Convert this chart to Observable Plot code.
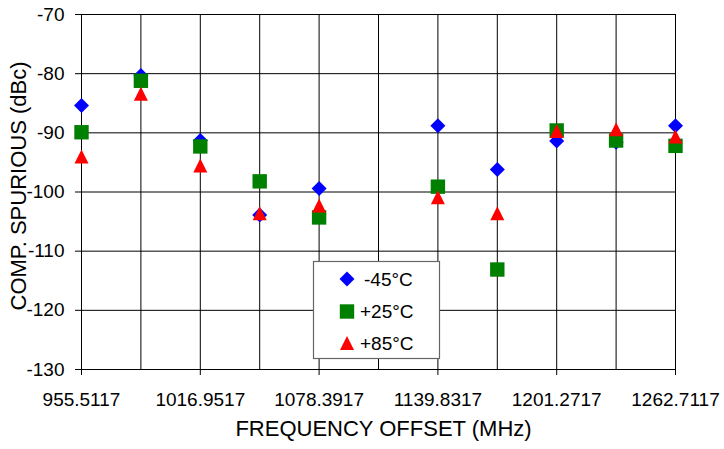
<!DOCTYPE html>
<html>
<head>
<meta charset="utf-8">
<script src="https://cdn.jsdelivr.net/npm/d3@7"></script>
<script src="https://cdn.jsdelivr.net/npm/@observablehq/plot@0.6"></script>
<style>
  html, body { margin: 0; padding: 0; background: white; }
  #chart { position: relative; width: 724px; height: 449px; }
</style>
</head>
<body>
<div id="chart"></div>
<script>
// ---- data ----
const frequencies = [955.5117, 986.2317, 1016.9517, 1047.6717, 1078.3917, 1139.8317, 1170.5517, 1201.2717, 1231.9917, 1262.7117];
const minus45 = [-85.4, -80.3, -91.3, -103.9, -99.4, -88.8, -96.2, -91.4, -91.6, -88.8];
const plus25  = [-89.9, -81.2, -92.3, -98.2, -104.3, -99.1, -113.1, -89.6, -91.3, -92.2];
const plus85  = [-94.0, -83.4, -95.5, -103.6, -102.3, -100.9, -103.6, -89.7, -89.4, -90.6];
const seriesNames = ["-45°C", "+25°C", "+85°C"];
const seriesColors = ["#0000FF", "#008000", "#FF0000"];
const gridX = [955.5117, 986.2317, 1016.9517, 1047.6717, 1078.3917, 1109.1117, 1139.8317, 1170.5517, 1201.2717, 1231.9917, 1262.7117];
const xTickLabels = [955.5117, 1016.9517, 1078.3917, 1139.8317, 1201.2717, 1262.7117];
const yTicks = [-70, -80, -90, -100, -110, -120, -130];
const xTitle = "FREQUENCY OFFSET (MHz)";
const yTitle = "COMP. SPURIOUS (dBc)";

// ---- symbols ----
const diamondSym = { draw(ctx) { const r = 7.5; ctx.moveTo(0, -r); ctx.lineTo(r, 0); ctx.lineTo(0, r); ctx.lineTo(-r, 0); ctx.closePath(); } };
const squareSym = { draw(ctx) { const h = 7.2; ctx.moveTo(-h, -h); ctx.lineTo(h, -h); ctx.lineTo(h, h); ctx.lineTo(-h, h); ctx.closePath(); } };
const triangleSym = { draw(ctx) { const h = 7; ctx.moveTo(0, -h); ctx.lineTo(h, h); ctx.lineTo(-h, h); ctx.closePath(); } };
const symbols = [diamondSym, squareSym, triangleSym];

const rows = (vals) => frequencies.map((f, i) => ({ f, v: vals[i] }));
const allSeries = [minus45, plus25, plus85];

const font = "'Liberation Sans', Arial, Helvetica, sans-serif";

const plot = Plot.plot({
  width: 724,
  height: 449,
  marginLeft: 81,
  marginRight: 49,
  marginTop: 14,
  marginBottom: 80,
  style: { fontFamily: font, background: "white", color: "black" },
  x: { domain: [955.5117, 1262.7117], label: null },
  y: { domain: [-130, -70], label: null },
  marks: [
    Plot.ruleX(gridX, { stroke: "black", strokeWidth: 1 }),
    Plot.ruleY(yTicks, { stroke: "black", strokeWidth: 1 }),
    Plot.axisX({ ticks: xTickLabels, tickFormat: d => d.toFixed(4), tickSize: 6, tickPadding: 17, fontSize: 19, label: null, stroke: "black" }),
    Plot.axisY({ ticks: yTicks, tickFormat: d => String(d), tickSize: 6, tickPadding: 11, fontSize: 19, label: null, stroke: "black" }),
    ...allSeries.map((vals, k) => Plot.dot(rows(vals), {
      x: "f", y: "v", symbol: () => symbols[k], fill: seriesColors[k], stroke: "none"
    })),
    Plot.text([xTitle], { frameAnchor: "bottom", dy: 66, dx: 5, fontSize: 22, fill: "black", textAnchor: "middle" }),
    Plot.text([yTitle], { frameAnchor: "left", rotate: -90, dx: -63, dy: -6, fontSize: 22, fill: "black", textAnchor: "middle" })
  ]
});

document.getElementById("chart").appendChild(plot);

// ---- legend (drawn into the SVG, pixel layout) ----
const svg = d3.select(plot);
const lg = svg.append("g").attr("font-family", font).attr("font-size", 19).attr("text-anchor", "start");
lg.append("rect").attr("x", 313.5).attr("y", 261.5).attr("width", 126).attr("height", 97)
  .attr("fill", "white").attr("stroke", "#666").attr("stroke-width", 1.2);
const legendRowsY = [279, 311.5, 343];
seriesNames.forEach((name, k) => {
  lg.append("path").attr("d", () => { const p = d3.path(); symbols[k].draw(p); return p.toString(); })
    .attr("transform", `translate(347,${legendRowsY[k]})`).attr("fill", seriesColors[k]);
  lg.append("text").attr("x", 360 + (k === 0 ? 4 : 0)).attr("y", legendRowsY[k]).attr("dy", "0.35em")
    .attr("fill", "black").text(name);
});
</script>
</body>
</html>
